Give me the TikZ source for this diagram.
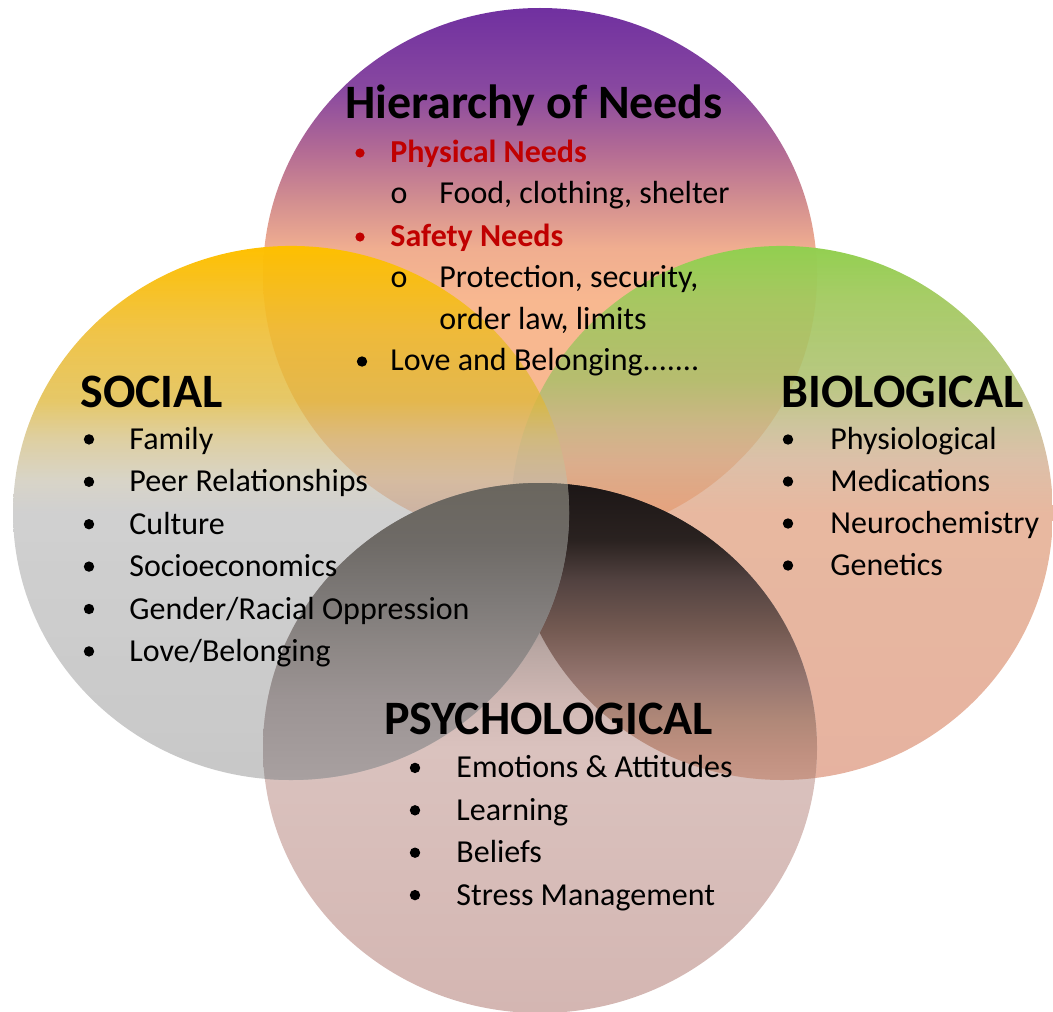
\documentclass[tikz,border=0pt]{standalone}
\usepackage{fontspec}
\setmainfont{Carlito}
\usetikzlibrary{fadings}

% circle colours
\definecolor{hierpurple}{HTML}{7030A0}
\definecolor{hierA}{HTML}{8848A0}
\definecolor{hierB}{HTML}{B46C94}
\definecolor{hierC}{HTML}{D28E90}
\definecolor{hierD}{HTML}{F0AE90}
\definecolor{hierpeach}{HTML}{F8B890}
\definecolor{socgold}{HTML}{FFC000}
\definecolor{socA}{HTML}{EEBB2D}
\definecolor{socB}{HTML}{DEB73A}
\definecolor{socC}{HTML}{D1BC7A}
\definecolor{socD}{HTML}{C3BDAA}
\definecolor{socgrey}{HTML}{B1B1B1}
\definecolor{socgreyb}{HTML}{A3A3A3}
\definecolor{biogreen}{HTML}{92D050}
\definecolor{bioA}{HTML}{A2C95E}
\definecolor{bioB}{HTML}{ABBE6A}
\definecolor{bioC}{HTML}{C4B587}
\definecolor{bioD}{HTML}{D1AC8D}
\definecolor{biosalmon}{HTML}{DE9A77}
\definecolor{biosalmonb}{HTML}{DB9177}
\definecolor{psyA}{HTML}{2A2222}
\definecolor{psyB}{HTML}{A89894}
\definecolor{psyC}{HTML}{B8A6A2}
\definecolor{psyD}{HTML}{D0B8B4}
\definecolor{psyE}{HTML}{DAC2BE}
\definecolor{psyF}{HTML}{D4B6B2}
% overlaps of the psychological circle
\definecolor{rbA}{HTML}{1C1616}
\definecolor{rbB}{HTML}{2A2220}
\definecolor{rbC}{HTML}{524240}
\definecolor{rbD}{HTML}{745A52}
\definecolor{rbE}{HTML}{967670}
\definecolor{rbF}{HTML}{B08878}
\definecolor{rbG}{HTML}{C09080}
\definecolor{rbH}{HTML}{C89888}
\definecolor{lbA}{HTML}{6A665E}
\definecolor{lbB}{HTML}{6E6A66}
\definecolor{lbC}{HTML}{7E7A78}
\definecolor{lbD}{HTML}{8E8886}
\definecolor{lbE}{HTML}{9C9494}
\definecolor{lbF}{HTML}{A29A9A}
\definecolor{lbG}{HTML}{A8A0A0}
\definecolor{needred}{HTML}{C00000}

\pgfdeclareverticalshading{hiershade}{100bp}{color(0bp)=(hierpeach); color(47.5bp)=(hierpeach);
  color(52.5bp)=(hierD); color(57bp)=(hierC); color(61.5bp)=(hierB); color(67.5bp)=(hierA);
  color(75bp)=(hierpurple); color(100bp)=(hierpurple)}
\pgfdeclareverticalshading{socshade}{100bp}{color(0bp)=(socgreyb); color(25bp)=(socgreyb);
  color(50bp)=(socgrey); color(53bp)=(socD); color(57bp)=(socC); color(60.5bp)=(socB);
  color(67bp)=(socA); color(75bp)=(socgold); color(100bp)=(socgold)}
\pgfdeclareverticalshading{bioshade}{100bp}{color(0bp)=(biosalmonb); color(25bp)=(biosalmonb);
  color(50bp)=(biosalmon); color(55bp)=(bioD); color(57.75bp)=(bioC); color(62.5bp)=(bioB);
  color(70bp)=(bioA); color(75bp)=(biogreen); color(100bp)=(biogreen)}
\pgfdeclareverticalshading{psyshade}{100bp}{color(0bp)=(psyF); color(25bp)=(psyF);
  color(50bp)=(psyE); color(54.5bp)=(psyD); color(59.5bp)=(psyC); color(61.5bp)=(psyB);
  color(75bp)=(psyA); color(100bp)=(psyA)}
\pgfdeclareverticalshading{rbshade}{100bp}{color(0bp)=(rbH); color(47bp)=(rbH);
  color(49.5bp)=(rbG); color(52.65bp)=(rbF); color(56.4bp)=(rbE); color(61.15bp)=(rbD);
  color(65.85bp)=(rbC); color(69.6bp)=(rbB); color(75bp)=(rbA); color(100bp)=(rbA)}
\pgfdeclareverticalshading{lbshade}{100bp}{color(0bp)=(lbG); color(47bp)=(lbG);
  color(50.75bp)=(lbF); color(54.5bp)=(lbE); color(59.25bp)=(lbD); color(64bp)=(lbC);
  color(69.5bp)=(lbB); color(75bp)=(lbA); color(100bp)=(lbA)}

\tikzfading[name=socfade, top color=transparent!0, bottom color=transparent!40, middle color=transparent!40]
\tikzfading[name=biofade, top color=transparent!0, bottom color=transparent!30, middle color=transparent!30]

\def\hierdisc{(540,275) ellipse [x radius=277, y radius=267]}
\def\socdisc{(291,513) ellipse [x radius=278, y radius=267]}
\def\biodisc{(782,513) ellipse [x radius=271, y radius=267]}
\def\psydisc{(540,748) ellipse [x radius=277, y radius=265]}

\newcommand\listfont{\fontsize{16}{19}\selectfont}

\begin{document}
\begin{tikzpicture}[x=0.5pt, y=-0.5pt,
  title/.style={anchor=base west, inner sep=0pt, font=\bfseries\fontsize{24}{28}\selectfont},
  item/.style={anchor=base west, inner sep=0pt, font=\listfont},
  dot/.style={circle, fill, inner sep=0pt, minimum size=5.2pt},
  reddot/.style={dot, fill=needred, minimum size=4.6pt},
  ring/.style={anchor=base, inner sep=0pt, font=\listfont}]
  \useasboundingbox (0,0) rectangle (1053,1011);

  % --- Circles ---
  \shade[shading=hiershade] \hierdisc;
  \shade[shading=bioshade, path fading=biofade] \biodisc;
  \shade[shading=psyshade] \psydisc;
  \begin{scope}
    \clip \biodisc;
    \shade[shading=rbshade] \psydisc;
  \end{scope}
  \shade[shading=socshade, path fading=socfade] \socdisc;
  \begin{scope}
    \clip \socdisc;
    \shade[shading=lbshade] \psydisc;
  \end{scope}

  % --- Hierarchy of Needs ---
  \node[title] (hier) at (345,119) {Hierarchy of Needs};
  \node[reddot] (physdot) at (360,153) {};
  \node[item, needred, font=\listfont\bfseries] (phys) at (390,162.5) {Physical Needs};
  \node[ring] (fooddot) at (399,203.5) {o};
  \node[item] (food) at (439,203.5) {Food, clothing, shelter};
  \node[reddot] (safedot) at (360,237) {};
  \node[item, needred, font=\listfont\bfseries] (safety) at (390,246.5) {Safety Needs};
  \node[ring] (protdot) at (399,287.5) {o};
  \node[item] (prot) at (439,287.5) {Protection, security,};
  \node[item] (order) at (439,329.5) {order law, limits};
  \node[dot] (lovedot) at (362,361.5) {};
  \node[item] (love) at (390,370.5) {Love and Belonging.......};

  % --- Social ---
  \node[title] (social) at (80,407) {SOCIAL};
  \foreach \txt [count=\i] in {Family, Peer Relationships, Culture, Socioeconomics,
      Gender/Racial Oppression, Love/Belonging} {
    \node[dot] (socdot\i) at (89,{397+42.4*\i}) {};
    \node[item] (soc\i) at (129,{407+42.4*\i}) {\txt};
  }

  % --- Biological ---
  \node[title] (bio) at (781,407) {BIOLOGICAL};
  \foreach \txt [count=\i] in {Physiological, Medications, Neurochemistry, Genetics} {
    \node[dot] (biodot\i) at (788,{397.5+42*\i}) {};
    \node[item] (bio\i) at (830,{407.5+42*\i}) {\txt};
  }

  % --- Psychological ---
  \node[title] (psych) at (384,734) {PSYCHOLOGICAL};
  \foreach \txt [count=\i] in {Emotions \& Attitudes, Learning, Beliefs, Stress Management} {
    \node[dot] (psydot\i) at (415,{725.5+42.4*\i}) {};
    \node[item] (psy\i) at (456,{735.5+42.4*\i}) {\txt};
  }
\end{tikzpicture}
\end{document}
